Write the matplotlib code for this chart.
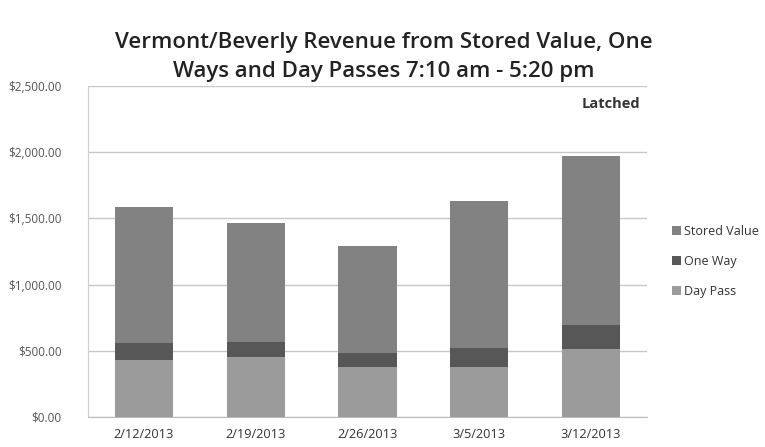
import matplotlib
matplotlib.use("Agg")
import matplotlib.pyplot as plt
import numpy as np
from matplotlib.ticker import FuncFormatter

categories = ["2/12/2013", "2/19/2013", "2/26/2013", "3/5/2013", "3/12/2013"]
day_pass = [428, 454, 374, 374, 510]
one_way = [132, 113, 110, 148, 184]
stored_value = [1029, 896, 810, 1110, 1281]
series_names = ["Stored Value", "One Way", "Day Pass"]
colors = {"Stored Value": "#828282", "One Way": "#575757", "Day Pass": "#9b9b9b"}

plt.rcParams['font.family'] = ['Open Sans', 'DejaVu Sans']

fig = plt.figure(figsize=(7.65, 4.47), dpi=100)
ax = fig.add_axes([88/765, 1-417/447, (647-88)/765, (417-86)/447])

x = np.arange(len(categories))
w = 0.52
b1 = ax.bar(x, day_pass, w, color=colors["Day Pass"], label="Day Pass", zorder=3)
bottom2 = np.array(day_pass)
b2 = ax.bar(x, one_way, w, bottom=bottom2, color=colors["One Way"], label="One Way", zorder=3)
bottom3 = bottom2 + np.array(one_way)
b3 = ax.bar(x, stored_value, w, bottom=bottom3, color=colors["Stored Value"], label="Stored Value", zorder=3)

ax.set_xlim(-0.5, len(categories) - 0.5)
ax.set_ylim(0, 2500)
ax.set_yticks(np.arange(0, 2501, 500))
ax.yaxis.set_major_formatter(FuncFormatter(lambda v, p: f"${v:,.2f}"))
ax.set_xticks(x)
ax.set_xticklabels(categories)
ax.tick_params(axis='y', length=0, labelsize=8.5, labelcolor="#555555", pad=19)
ax.tick_params(axis='x', length=0, labelsize=9.2, labelcolor="#333333", pad=8)
ax.grid(axis='y', color="#c8c8c8", linewidth=1, zorder=0)
for s in ["top", "right"]:
    ax.spines[s].set_visible(False)
ax.spines["left"].set_color("#d0d0d0")
ax.spines["bottom"].set_color("#bbbbbb")

ax.text(4.44, 2367, "Latched", ha="right", va="center", fontsize=10.5,
        fontweight="bold", color="#333333")

fig.text(0.502, 0.872, "Vermont/Beverly Revenue from Stored Value, One\nWays and Day Passes 7:10 am - 5:20 pm",
         ha="center", va="center", fontsize=16, fontweight="semibold",
         color="#222222", linespacing=1.5)

handles = [b3, b2, b1]
leg = fig.legend(handles, series_names, loc="center left", bbox_to_anchor=(0.864, 0.415),
                 frameon=False, fontsize=9, handlelength=0.7, handleheight=0.7,
                 handletextpad=0.25, labelspacing=1.35, labelcolor="#333333")

fig.savefig("out.png", dpi=100, facecolor="white")
